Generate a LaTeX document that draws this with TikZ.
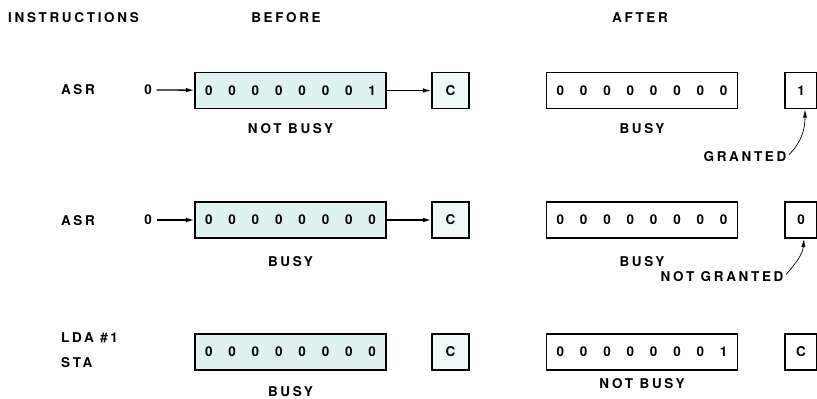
\documentclass[tikz,border=0pt]{standalone}
\usepackage{fontspec}
\setmainfont{TeX Gyre Heros}[LetterSpace=20]
\usetikzlibrary{positioning,arrows.meta}
\definecolor{regfill}{RGB}{222,243,240}
\newcommand{\bits}[1]{\foreach \b in {#1}{\makebox[0.7cm]{\b}}}

\begin{document}
\begin{tikzpicture}[x=0.03cm, y=0.03cm, font=\bfseries\fontsize{11.5}{13}\selectfont,
    reg/.style={draw, line width=1.4pt, minimum width=5.73cm, minimum height=1.08cm, inner sep=0pt},
    cbox/.style={draw, line width=1.4pt, minimum width=1.11cm, minimum height=1.08cm, inner sep=0pt},
    old/.style={fill=regfill},
    lbl/.style={inner sep=0pt},
    shiftin/.style={-{Latex[length=7pt,width=4pt]}, line width=1.1pt},
    note/.style={-{Latex[length=7pt,width=3.5pt]}, line width=0.6pt}]
  \useasboundingbox (0,0) rectangle (817,-399);
  \node[lbl, anchor=west] (hins) at (8,-18) {INSTRUCTIONS};
  \node[lbl] (hbef) at (286,-18) {BEFORE};
  \node[lbl] (haft) at (640,-18) {AFTER};
  % first ASR
  \node[lbl] (ins1) at (78,-90) {ASR};
  \node[lbl, inner sep=4pt] (in1) at (148,-90) {0};
  \node[reg,old] (b1) at (290.5,-90.5) {\bits{0,0,0,0,0,0,0,1}};
  \node[cbox,fill=regfill!50] (c1) at (450.5,-90.5) {C};
  \node[reg] (a1) at (642,-90.5) {\bits{0,0,0,0,0,0,0,0}};
  \node[cbox, minimum width=0.96cm] (r1) at (801,-90.5) {1};
  \node[lbl, below=4.2mm of b1] {NOT BUSY};
  \node[lbl, below=4.2mm of a1] {BUSY};
  \node[lbl] (gr) at (745,-157) {GRANTED};
  \draw[shiftin] (in1) -- (b1);
  \draw[shiftin] (b1) -- (c1);
  \draw[note] ([xshift=2pt,yshift=2pt]gr.east) to[out=45,in=-90] ([xshift=0.12cm]r1.south);
  % second ASR
  \node[lbl] (ins2) at (78,-221) {ASR};
  \node[lbl, inner sep=4pt] (in2) at (148,-220) {0};
  \node[reg,old] (b2) at (290.5,-220) {\bits{0,0,0,0,0,0,0,0}};
  \node[cbox,fill=regfill!50] (c2) at (450.5,-220) {C};
  \node[reg] (a2) at (642,-220) {\bits{0,0,0,0,0,0,0,0}};
  \node[cbox, minimum width=0.96cm] (r2) at (801,-220) {0};
  \node[lbl, below=5.3mm of b2] {BUSY};
  \node[lbl, below=5.3mm of a2] {BUSY};
  \node[lbl] (ngr) at (722,-277) {NOT GRANTED};
  \draw[shiftin] (in2) -- (b2);
  \draw[shiftin] (b2) -- (c2);
  \draw[note] ([xshift=2pt,yshift=2pt]ngr.east) to[out=50,in=-95] ([xshift=0.09cm]r2.south);
  % LDA / STA
  \node[lbl, anchor=west] (ins3) at (61,-338) {LDA \#1};
  \node[lbl, anchor=west] (ins4) at (61,-363) {STA};
  \node[reg,old] (b3) at (290.5,-352) {\bits{0,0,0,0,0,0,0,0}};
  \node[cbox,fill=regfill!50] (c3) at (450.5,-352) {C};
  \node[reg] (a3) at (642,-352) {\bits{0,0,0,0,0,0,0,1}};
  \node[cbox, minimum width=0.96cm] (r3) at (801,-352) {C};
  \node[lbl, below=4.6mm of b3] {BUSY};
  \node[lbl, below=2.2mm of a3] {NOT BUSY};
\end{tikzpicture}
\end{document}
